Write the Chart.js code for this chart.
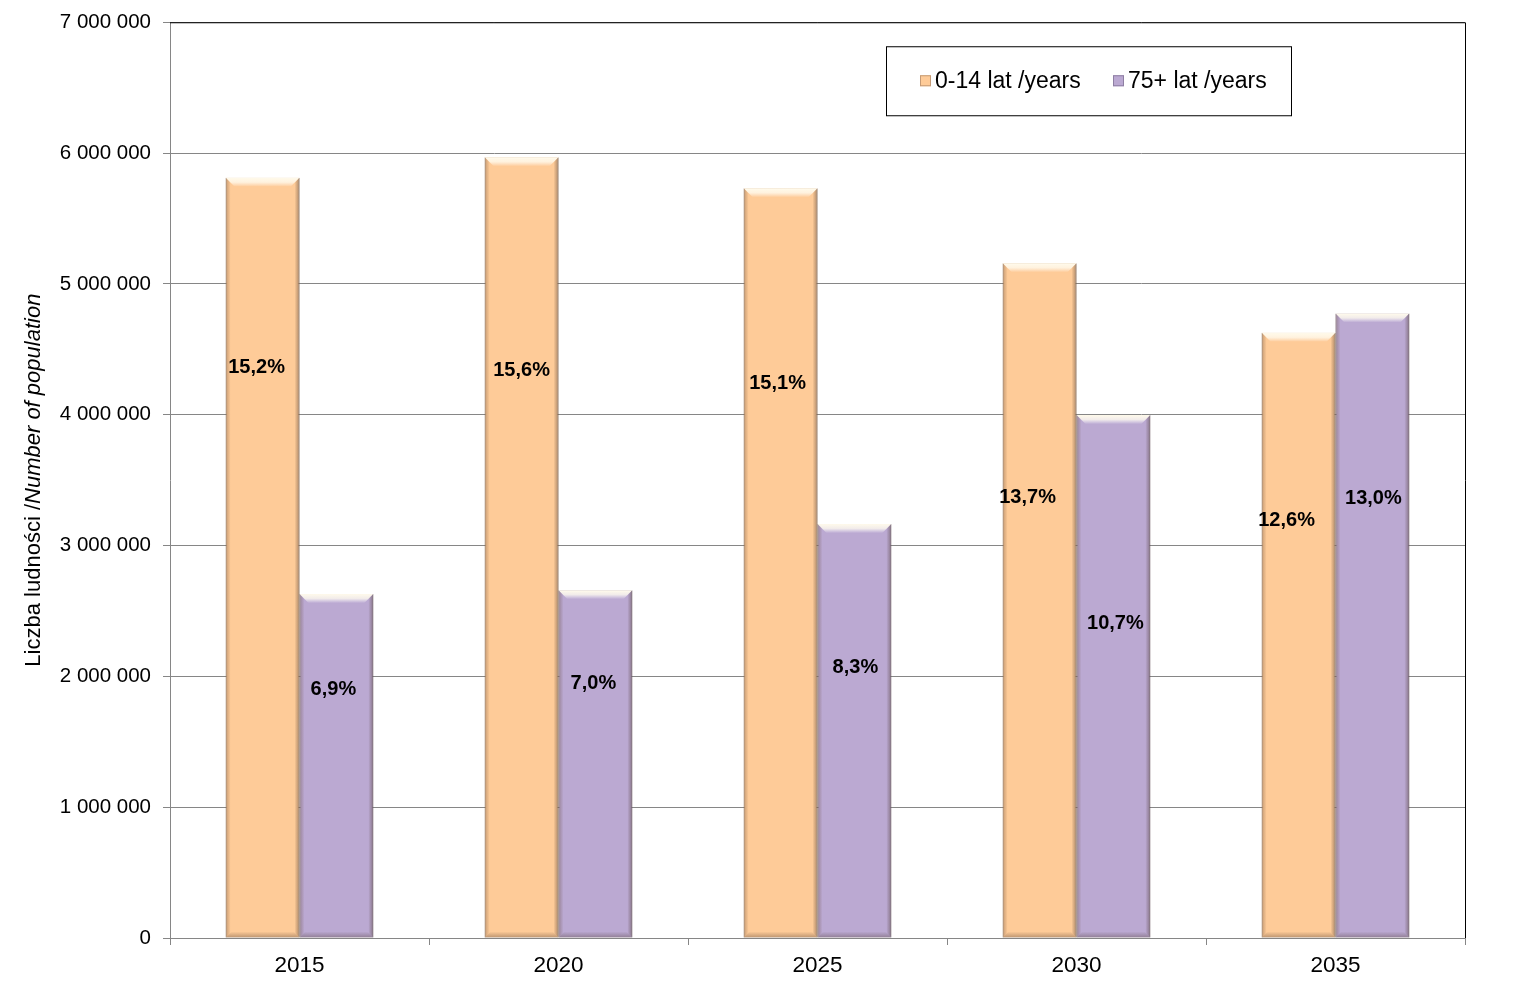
<!DOCTYPE html>
<html>
<head>
<meta charset="utf-8">
<script src="https://cdn.jsdelivr.net/npm/chart.js@4.4.1/dist/chart.umd.min.js"></script>
<style>
  html, body { margin: 0; padding: 0; background: #fff; }
  #wrap { width: 1526px; height: 997px; position: relative; }
</style>
</head>
<body>
<div id="wrap"><canvas id="myChart"></canvas></div>
<script>
  "use strict";

  const years = ["2015", "2020", "2025", "2030", "2035"];
  const young = [5812000, 5968000, 5731000, 5158000, 4626000];
  const old = [2629000, 2659000, 3164000, 3997000, 4774000];
  const youngShare = ["15,2%", "15,6%", "15,1%", "13,7%", "12,6%"];
  const oldShare = ["6,9%", "7,0%", "8,3%", "10,7%", "13,0%"];
  const yTicks = [0, 1000000, 2000000, 3000000, 4000000, 5000000, 6000000, 7000000];

  const FONT = "'Liberation Sans', Arial, sans-serif";

  // bevel overlay on every bar, roughly like the Excel 3D style
  const bevelPlugin = {
    id: "bevel",
    afterDatasetDraw(chart, args) {
      const ctx = chart.ctx;
      const meta = args.meta;
      const b = 9;
      meta.data.forEach(function (bar) {
        const p = bar.getProps(["x", "y", "base", "width"], true);
        const x0 = p.x - p.width / 2, x1 = p.x + p.width / 2;
        const top = p.y, bot = p.base;
        ctx.save();
        // top highlight
        const g = ctx.createLinearGradient(0, top, 0, top + b);
        g.addColorStop(0, "rgba(255,250,235,1)");
        g.addColorStop(0.5, "rgba(255,252,240,0.8)");
        g.addColorStop(1, "rgba(255,255,255,0)");
        ctx.fillStyle = g;
        ctx.beginPath();
        ctx.moveTo(x0, top); ctx.lineTo(x1, top);
        ctx.lineTo(x1 - b, top + b); ctx.lineTo(x0 + b, top + b);
        ctx.closePath(); ctx.fill();
        // left edge
        let gl = ctx.createLinearGradient(x0, 0, x0 + 5, 0);
        gl.addColorStop(0, "rgba(90,60,40,0.35)");
        gl.addColorStop(1, "rgba(90,60,40,0)");
        ctx.fillStyle = gl;
        ctx.beginPath();
        ctx.moveTo(x0, top); ctx.lineTo(x0 + 5, top + 5);
        ctx.lineTo(x0 + 5, bot - 5); ctx.lineTo(x0, bot);
        ctx.closePath(); ctx.fill();
        // right edge
        let gr = ctx.createLinearGradient(x1, 0, x1 - 5, 0);
        gr.addColorStop(0, "rgba(70,50,40,0.45)");
        gr.addColorStop(1, "rgba(70,50,40,0)");
        ctx.fillStyle = gr;
        ctx.beginPath();
        ctx.moveTo(x1, top); ctx.lineTo(x1 - 5, top + 5);
        ctx.lineTo(x1 - 5, bot - 5); ctx.lineTo(x1, bot);
        ctx.closePath(); ctx.fill();
        // bottom
        let gb = ctx.createLinearGradient(0, bot, 0, bot - 6);
        gb.addColorStop(0, "rgba(70,50,40,0.35)");
        gb.addColorStop(1, "rgba(70,50,40,0)");
        ctx.fillStyle = gb;
        ctx.beginPath();
        ctx.moveTo(x0, bot); ctx.lineTo(x1, bot);
        ctx.lineTo(x1 - 6, bot - 6); ctx.lineTo(x0 + 6, bot - 6);
        ctx.closePath(); ctx.fill();
        ctx.restore();
      });
    }
  };

  const extrasPlugin = {
    id: "extras",
    afterDraw(chart, args, opts) {
      const ctx = chart.ctx;
      const area = chart.chartArea;
      ctx.save();

      // top and right frame of the plot area
      ctx.strokeStyle = "#000";
      ctx.lineWidth = 1;
      ctx.beginPath();
      ctx.moveTo(area.left, area.top + 0.5);
      ctx.lineTo(area.right + 0.5, area.top + 0.5);
      ctx.lineTo(area.right + 0.5, area.bottom);
      ctx.stroke();

      // share labels inside the bars (placed at a share of the bar height)
      ctx.font = "bold 20px " + FONT;
      ctx.fillStyle = "#000";
      ctx.textAlign = "center";
      ctx.textBaseline = "middle";
      const shares = [youngShare, oldShare];
      chart.data.datasets.forEach(function (ds, di) {
        chart.getDatasetMeta(di).data.forEach(function (bar, i) {
          const p = bar.getProps(["x", "y", "base"], true);
          const y = p.base - (p.base - p.y) * opts.labelAt[di][i];
          ctx.fillText(shares[di][i], p.x + opts.labelDx[di][i], y);
        });
      });

      // legend box
      const lx = area.left + 716, ly = area.top + 24;
      ctx.fillStyle = "#fff";
      ctx.fillRect(lx, ly, 405, 69);
      ctx.strokeStyle = "#000";
      ctx.strokeRect(lx + 0.5, ly + 0.5, 405, 69);
      ctx.font = "23px " + FONT;
      ctx.textAlign = "left";
      let tx = lx + 34;
      chart.data.datasets.forEach(function (ds) {
        ctx.fillStyle = ds.backgroundColor;
        ctx.fillRect(tx, ly + 29, 11, 11);
        ctx.strokeStyle = ds.borderColor;
        ctx.strokeRect(tx + 0.5, ly + 29.5, 10, 10);
        ctx.fillStyle = "#000";
        ctx.fillText(ds.label, tx + 15, ly + 35);
        tx += 193;
      });

      // y axis title, mixed upright/italic
      const part1 = "Liczba ludności /";
      const part2 = "Number of population";
      ctx.translate(34, (area.top + area.bottom) / 2);
      ctx.rotate(-Math.PI / 2);
      ctx.font = "22px " + FONT;
      const w1 = ctx.measureText(part1).width;
      ctx.font = "italic 22px " + FONT;
      const w2 = ctx.measureText(part2).width;
      let sx = -(w1 + w2) / 2;
      ctx.fillStyle = "#000";
      ctx.font = "22px " + FONT;
      ctx.fillText(part1, sx, 0);
      ctx.font = "italic 22px " + FONT;
      ctx.fillText(part2, sx + w1, 0);
      ctx.restore();
    }
  };

  new Chart(document.getElementById("myChart"), {
    type: "bar",
    data: {
      labels: years,
      datasets: [
        {
          label: "0-14 lat /years",
          data: young,
          backgroundColor: "#FECB98",
          borderColor: "#C49A76",
          borderWidth: 1
        },
        {
          label: "75+ lat /years",
          data: old,
          backgroundColor: "#BBA9D2",
          borderColor: "#8E7FA3",
          borderWidth: 1
        }
      ]
    },
    plugins: [bevelPlugin, extrasPlugin],
    options: {
      responsive: true,
      maintainAspectRatio: false,
      animation: false,
      layout: { padding: { left: 0, right: 61, top: 22, bottom: 0 } },
      plugins: {
        legend: { display: false },
        tooltip: { enabled: false },
        extras: {
          labelAt: [
            [0.75, 0.727, 0.739, 0.652, 0.689],
            [0.721, 0.73, 0.652, 0.602, 0.704]
          ],
          labelDx: [
            [-6, 0, -3, -12, -12],
            [-3, -2, 1, 2, 1]
          ]
        }
      },
      datasets: {
        bar: { categoryPercentage: 0.57, barPercentage: 1.0 }
      },
      scales: {
        x: {
          grid: {
            offset: true,
            drawOnChartArea: false,
            drawTicks: true,
            tickLength: 7,
            color: "#868686"
          },
          border: { color: "#868686" },
          ticks: {
            color: "#000",
            font: { family: FONT, size: 22.5 },
            padding: 7
          },
          afterFit(scale) { scale.height = 59; }
        },
        y: {
          min: 0,
          max: 7000000,
          afterBuildTicks(scale) {
            scale.ticks = yTicks.map(function (v) { return { value: v }; });
          },
          grid: {
            color: "#868686",
            tickLength: 7
          },
          border: { color: "#868686" },
          ticks: {
            color: "#000",
            font: { family: FONT, size: 20.5, lineHeight: 1 },
            padding: 12,
            callback: function (value) {
              return String(value).replace(/\B(?=(\d{3})+(?!\d))/g, " ");
            }
          },
          afterFit(scale) { scale.width = 170; }
        }
      }
    }
  });
</script>
</body>
</html>
